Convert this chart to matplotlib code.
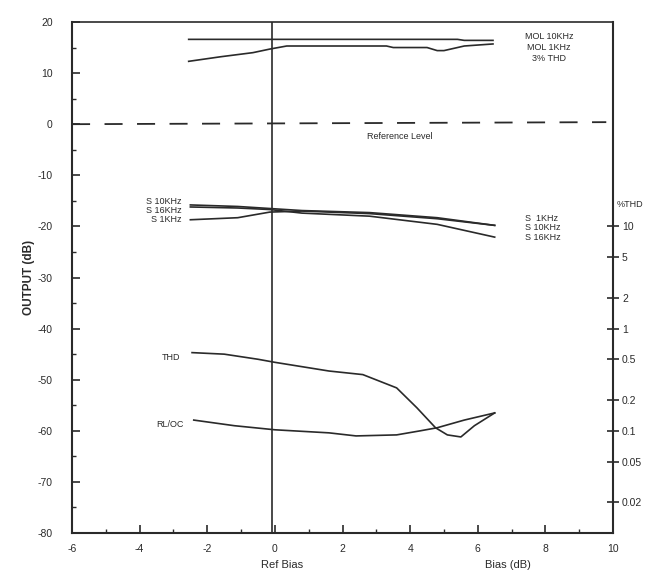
import numpy as np
import matplotlib
matplotlib.use('Agg')
import matplotlib.pyplot as plt
from matplotlib.ticker import MultipleLocator

plt.rcParams['font.family'] = ['Liberation Sans', 'DejaVu Sans']
plt.rcParams['axes.unicode_minus'] = False

# bias (dB) vs output (dB)
mol10_x = [-2.55, 0.0, 2.0, 4.0, 5.4, 5.6, 6.45]
mol10_y = [16.6, 16.6, 16.6, 16.6, 16.6, 16.4, 16.4]

mol1_x = [-2.55, -1.6, -0.65, -0.15, 0.35, 3.3, 3.5, 4.5, 4.8, 5.0, 5.6, 6.45]
mol1_y = [12.3, 13.2, 14.0, 14.7, 15.3, 15.3, 15.0, 15.0, 14.4, 14.4, 15.3, 15.7]

s10_x = [-2.5, -1.1, -0.15, 0.8, 2.8, 4.8, 6.5]
s10_y = [-15.8, -16.1, -16.5, -16.9, -17.3, -18.3, -19.8]

s16_x = [-2.5, -1.1, -0.15, 0.8, 2.8, 4.8, 6.5]
s16_y = [-16.2, -16.4, -16.7, -17.4, -18.0, -19.6, -22.1]

s1_x = [-2.5, -1.1, -0.15, 0.8, 2.8, 4.8, 6.5]
s1_y = [-18.7, -18.3, -17.2, -17.0, -17.5, -18.5, -19.8]

thd_x = [-2.45, -1.5, -0.5, 0.0, 1.6, 2.6, 3.6, 4.2, 4.75, 5.1, 5.5, 5.9, 6.5]
thd_y = [-44.7, -45.0, -46.0, -46.6, -48.3, -49.0, -51.6, -55.5, -59.4, -60.8, -61.2, -59.0, -56.5]

rloc_x = [-2.4, -1.2, 0.0, 1.6, 2.4, 3.6, 4.3, 4.8, 5.6, 6.5]
rloc_y = [-57.9, -59.0, -59.8, -60.4, -61.0, -60.8, -60.0, -59.4, -57.9, -56.5]

thd_ticks = [10, 5, 2, 1, 0.5, 0.2, 0.1, 0.05, 0.02]
thd_labels = ['10', '5', '2', '1', '0.5', '0.2', '0.1', '0.05', '0.02']

ink = '#2a2a2a'

fig = plt.figure(figsize=(6.56, 5.74), dpi=100)
ax = fig.add_axes([0.1098, 0.0714, 0.8247, 0.8903])

for xs, ys in [(mol10_x, mol10_y), (mol1_x, mol1_y), (s10_x, s10_y),
               (s16_x, s16_y), (s1_x, s1_y), (thd_x, thd_y), (rloc_x, rloc_y)]:
    ax.plot(xs, ys, color=ink, lw=1.2)

ax.axvline(-0.1, color=ink, lw=1.2)
ax.plot([-6, 9.8], [0, 0.4], color=ink, lw=1.3, dashes=(10, 8))

ax.set_xlim(-6, 10)
ax.set_ylim(-80, 20)
ax.xaxis.set_major_locator(MultipleLocator(2))
ax.xaxis.set_minor_locator(MultipleLocator(1))
ax.yaxis.set_major_locator(MultipleLocator(10))
ax.yaxis.set_minor_locator(MultipleLocator(5))
ax.tick_params(which='both', direction='in', colors=ink, labelsize=7.5,
               top=False, right=False)
ax.tick_params(which='major', length=6, width=1.2)
ax.tick_params(which='minor', length=3, width=1.0)
ax.tick_params(axis='y', pad=14)
ax.tick_params(axis='x', pad=8)
for s in ax.spines.values():
    s.set_linewidth(1.5)
    s.set_color(ink)
ax.spines['top'].set_linewidth(1.2)
ax.set_ylabel('OUTPUT (dB)', fontsize=8.5, fontweight='bold', color=ink, labelpad=2)

# right hand %THD scale, 20 dB per decade
sec = ax.secondary_yaxis('right', functions=(lambda d: 100 * 10 ** (d / 20.0),
                                             lambda t: 20 * np.log10(np.maximum(t, 1e-9) / 100.0)))
sec.set_yticks(thd_ticks)
sec.set_yticklabels(thd_labels)
sec.yaxis.set_minor_locator(plt.NullLocator())
sec.tick_params(direction='inout', length=9, width=1.2, labelsize=7.5, colors=ink, pad=2)
sec.spines['right'].set_visible(False)

tkw = dict(fontsize=6.5, color=ink)
ax.text(8.1, 17.1, 'MOL 10KHz', ha='center', va='center', **tkw)
ax.text(8.1, 15.0, 'MOL 1KHz', ha='center', va='center', **tkw)
ax.text(8.1, 12.8, '3% THD', ha='center', va='center', **tkw)
ax.text(3.7, -2.5, 'Reference Level', ha='center', va='center', **tkw)
ax.text(-2.75, -15.1, 'S 10KHz', ha='right', va='center', **tkw)
ax.text(-2.75, -16.9, 'S 16KHz', ha='right', va='center', **tkw)
ax.text(-2.75, -18.7, 'S 1KHz', ha='right', va='center', **tkw)
ax.text(7.4, -18.5, 'S  1KHz', ha='left', va='center', **tkw)
ax.text(7.4, -20.3, 'S 10KHz', ha='left', va='center', **tkw)
ax.text(7.4, -22.1, 'S 16KHz', ha='left', va='center', **tkw)
ax.text(10.1, -15.7, '%THD', ha='left', va='center', **tkw)
ax.text(-2.8, -45.6, 'THD', ha='right', va='center', **tkw)
ax.text(-2.7, -58.8, 'RL/OC', ha='right', va='center', **tkw)
ax.text(0.2, -86.3, 'Ref Bias', ha='center', va='center', fontsize=8, color=ink)
ax.text(6.9, -86.3, 'Bias (dB)', ha='center', va='center', fontsize=8, color=ink)

fig.savefig('out.png', dpi=100)
